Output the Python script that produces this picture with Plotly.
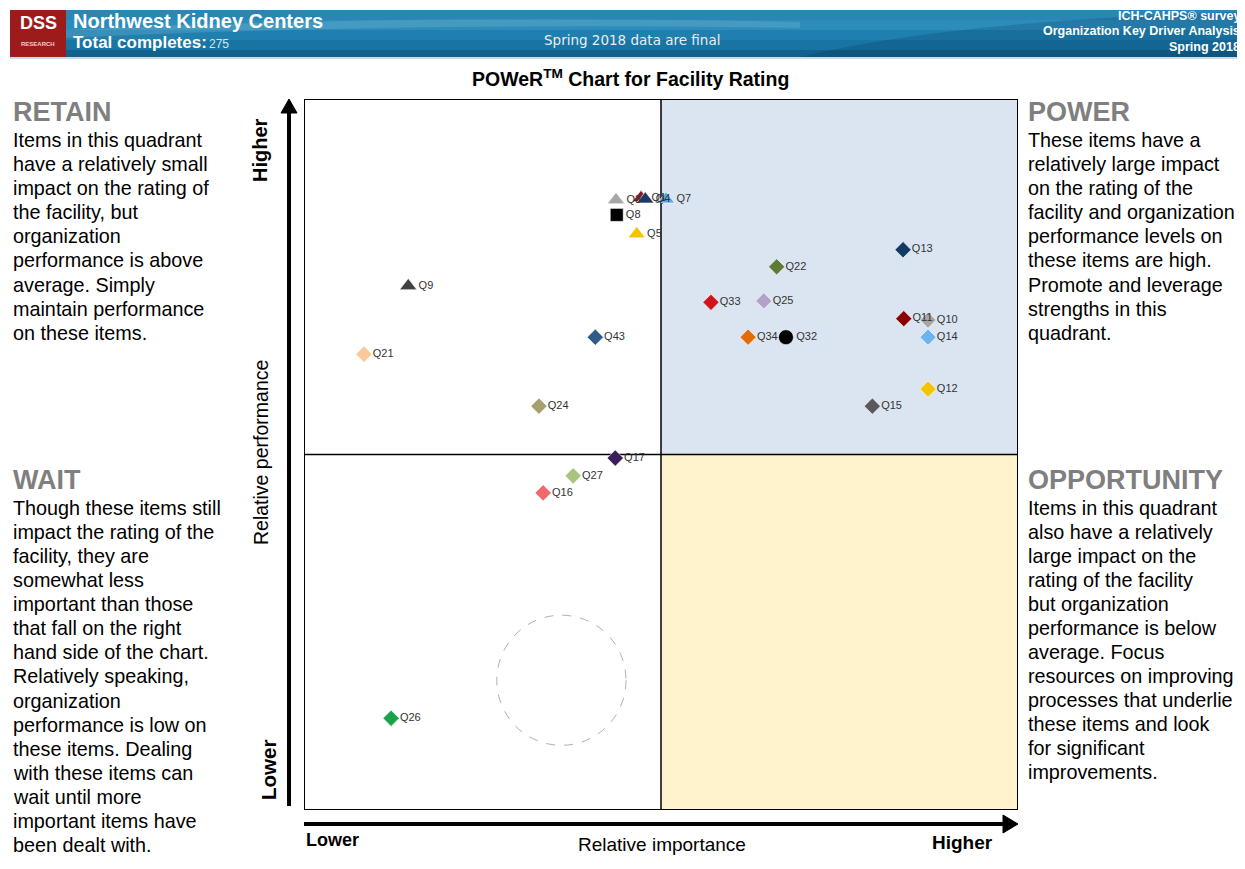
import plotly.graph_objects as go

# ---------------- data ----------------
labels = ["Q3", "Q1", "Q4", "Q7", "Q8", "Q5", "Q9", "Q21", "Q43", "Q24",
          "Q22", "Q13", "Q33", "Q25", "Q34", "Q32", "Q11", "Q10", "Q14",
          "Q12", "Q15", "Q17", "Q27", "Q16", "Q26"]
importance = [43.7, 47.2, 47.8, 50.7, 43.8, 46.6, 14.6, 8.4, 40.8, 32.9,
              66.2, 83.9, 57.0, 64.4, 62.2, 67.5, 84.0, 87.4, 87.4,
              87.4, 79.6, 43.6, 37.7, 33.5, 12.2]
performance = [85.8, 86.1, 85.9, 85.9, 83.7, 81.0, 73.7, 64.1, 66.5, 56.8,
               76.4, 78.8, 71.4, 71.6, 66.5, 66.5, 69.1, 68.9, 66.5,
               59.2, 56.8, 49.5, 47.0, 44.6, 12.9]
symbols = ["triangle-up"] * 4 + ["square", "triangle-up", "triangle-up"] + \
          ["diamond"] * 8 + ["circle"] + ["diamond"] * 9
colors = ["#a6a6a6", "#8b1a1a", "#1f3864", "#5fa8e8", "#000000", "#f5c400",
          "#404040", "#f9c89b", "#2e5c8a", "#a69f6e", "#5e7a35", "#123a63",
          "#d0131c", "#b3a2c7", "#e36c0a", "#000000", "#8b0000", "#a6a6a6",
          "#6cb4ee", "#f5c400", "#595959", "#3b1f5a", "#a9c47f", "#f0696b",
          "#1aa34a"]
circle_bounds = [27.0, 45.1, 9.1, 27.4]  # x0, x1, y0, y1

retain_lines = ["Items in this quadrant", "have a relatively small", "impact on the rating of",
                "the facility, but", "organization", "performance is above",
                "average. Simply", "maintain performance", "on these items."]
wait_lines = ["Though these items still", "impact the rating of the", "facility, they are",
              "somewhat less", "important than those", "that fall on the right",
              "hand side of the chart.", "Relatively speaking,", "organization",
              "performance is low on", "these items. Dealing", "with these items can",
              "wait until more", "important items have", "been dealt with."]
power_lines = ["These items have a", "relatively large impact", "on the rating of the",
               "facility and organization", "performance levels on", "these items are high.",
               "Promote and leverage", "strengths in this", "quadrant."]
opp_lines = ["Items in this quadrant", "also have a relatively", "large impact on the",
             "rating of the facility", "but organization", "performance is below",
             "average. Focus", "resources on improving", "processes that underlie",
             "these items and look", "for significant", "improvements."]

# ---------------- layout helpers (page pixel coords) ----------------
OFF = 8                     # body margin of the html page
W, H = 1245 - OFF, 869 - OFF
L, R, T, B = 304, 1018, 99, 810


def px(x):
    return (x - L) / (R - L)


def py(y):
    return (B - y) / (B - T)


FONT = "Liberation Sans, Arial, sans-serif"
WIDE = "DejaVu Sans, Verdana, sans-serif"

fig = go.Figure()

sizes = [15 if s == "triangle-up" else (13 if s == "square" else (15 if s == "circle" else 12.5)) for s in symbols]
fig.add_trace(go.Scatter(
    x=importance, y=performance, mode="markers+text",
    text=labels, textposition="middle right",
    textfont=dict(family=FONT, size=11, color="#333333"),
    marker=dict(symbol=symbols, color=colors, size=sizes, opacity=1,
                line=dict(color="white", width=0.6)),
    cliponaxis=False, hoverinfo="text", showlegend=False))

shapes = []
annotations = []

# quadrant fills
shapes.append(dict(type="rect", xref="x", yref="y", x0=50, x1=100, y0=50, y1=100,
                   fillcolor="#dbe5f1", line=dict(width=0), layer="below"))
shapes.append(dict(type="rect", xref="x", yref="y", x0=50, x1=100, y0=0, y1=50,
                   fillcolor="#fef3cd", line=dict(width=0), layer="below"))
# divider lines
shapes.append(dict(type="line", xref="x", yref="y", x0=50, x1=50, y0=0, y1=100,
                   line=dict(color="black", width=1.5), layer="below"))
shapes.append(dict(type="line", xref="x", yref="y", x0=0, x1=100, y0=50, y1=50,
                   line=dict(color="black", width=1.5), layer="below"))
# border
shapes.append(dict(type="rect", xref="x", yref="y", x0=0, x1=100, y0=0, y1=100,
                   line=dict(color="black", width=2), layer="below"))
# dashed circle
shapes.append(dict(type="circle", xref="x", yref="y",
                   x0=circle_bounds[0], x1=circle_bounds[1], y0=circle_bounds[2], y1=circle_bounds[3],
                   line=dict(color="#b0b0b0", width=1, dash="dash")))

# axis arrows
shapes.append(dict(type="line", xref="paper", yref="paper", x0=px(289), x1=px(289),
                   y0=py(806), y1=py(112), line=dict(color="black", width=4)))
shapes.append(dict(type="path", xref="paper", yref="paper",
                   path=f"M {px(281)} {py(113)} L {px(297)} {py(113)} L {px(289)} {py(99)} Z",
                   fillcolor="black", line=dict(color="black", width=1)))
shapes.append(dict(type="line", xref="paper", yref="paper", x0=px(304), x1=px(1004),
                   y0=py(824), y1=py(824), line=dict(color="black", width=4)))
shapes.append(dict(type="path", xref="paper", yref="paper",
                   path=f"M {px(1003)} {py(815)} L {px(1003)} {py(833)} L {px(1018)} {py(824)} Z",
                   fillcolor="black", line=dict(color="black", width=1)))

# header band
hdr_strips = [(10, 20, "#2a86b4"), (20, 30, "#2c8cba"), (30, 40, "#1f7fae"),
              (40, 50, "#1874a3"), (50, 57, "#10618c")]
for y0, y1, c in hdr_strips:
    shapes.append(dict(type="rect", xref="paper", yref="paper", x0=px(10), x1=px(1250),
                       y0=py(y1), y1=py(y0), fillcolor=c, line=dict(width=0)))
shapes.append(dict(type="path", xref="paper", yref="paper",
                   path=(f"M {px(66)} {py(30)} Q {px(400)} {py(14)} {px(800)} {py(22)} "
                         f"L {px(800)} {py(28)} Q {px(400)} {py(22)} {px(66)} {py(38)} Z"),
                   fillcolor="rgba(255,255,255,0.12)", line=dict(width=0)))
shapes.append(dict(type="path", xref="paper", yref="paper",
                   path=(f"M {px(800)} {py(57)} Q {px(950)} {py(20)} {px(1250)} {py(12)} "
                         f"L {px(1250)} {py(57)} Z"),
                   fillcolor="rgba(0,40,80,0.18)", line=dict(width=0)))
shapes.append(dict(type="line", xref="paper", yref="paper", x0=px(10), x1=px(1250),
                   y0=py(58), y1=py(58), line=dict(color="#c9dde8", width=2)))
# DSS logo box
shapes.append(dict(type="rect", xref="paper", yref="paper", x0=px(10), x1=px(66),
                   y0=py(57), y1=py(10), fillcolor="#9e1b1b", line=dict(width=0)))


def ann(x, y, text, size, color="black", bold=False, xanchor="left", family=FONT, angle=0):
    annotations.append(dict(
        x=px(x), y=py(y), xref="paper", yref="paper", text=f"<b>{text}</b>" if bold else text,
        showarrow=False, xanchor=xanchor, yanchor="middle", textangle=angle,
        font=dict(family=family, size=size, color=color)))


ann(38, 23, "DSS", 18, "white", bold=True, xanchor="center")
ann(38, 44, "RESEARCH", 6, "#f0d0d0", bold=True, xanchor="center")
ann(71, 21, "Northwest Kidney Centers", 20, "white", bold=True)
ann(71, 43, "Total completes:", 17, "white", bold=True)
ann(207, 44, "275", 12, "#d8e4ec")
ann(632, 40, "Spring 2018 data are final", 13.5, "#e8eef2", xanchor="center", family=WIDE)
ann(1242, 16, "ICH-CAHPS® survey", 12.5, "white", bold=True, xanchor="right")
ann(1242, 31, "Organization Key Driver Analysis", 12.5, "white", bold=True, xanchor="right")
ann(1242, 47, "Spring 2018", 12.5, "white", bold=True, xanchor="right")

ann(630, 78, "POWeR<sup>TM</sup> Chart for Facility Rating", 19.5, bold=True, xanchor="center")

# quadrant descriptions
BODY = 19.8
HEAD = 27
ann(11, 112, "RETAIN", HEAD, "#7f7f7f", bold=True)
for i, t in enumerate(retain_lines):
    ann(11, 140 + 24.1 * i, t, BODY)
ann(11, 480, "WAIT", HEAD, "#7f7f7f", bold=True)
for i, t in enumerate(wait_lines):
    ann(11, 508 + 24.07 * i, t, BODY)
ann(1026, 112, "POWER", HEAD, "#7f7f7f", bold=True)
for i, t in enumerate(power_lines):
    ann(1026, 140 + 24.1 * i, t, BODY)
ann(1026, 480, "OPPORTUNITY", HEAD, "#7f7f7f", bold=True)
for i, t in enumerate(opp_lines):
    ann(1026, 508 + 24.0 * i, t, BODY)

# axis words
ann(260, 150, "Higher", 20, bold=True, xanchor="center", angle=-90)
ann(268, 770, "Lower", 20.5, bold=True, xanchor="center", angle=-90)
ann(261, 453, "Relative performance", 19.5, xanchor="center", angle=-90)
ann(304, 840, "Lower", 18, bold=True)
ann(662, 844, "Relative importance", 19, xanchor="center")
ann(995, 842, "Higher", 19, bold=True, xanchor="right")

fig.update_layout(
    width=W, height=H,
    margin=dict(l=L - OFF, r=W - (R - OFF), t=T - OFF, b=H - (B - OFF), pad=0),
    paper_bgcolor="white", plot_bgcolor="white",
    xaxis=dict(range=[0, 100], visible=False, fixedrange=True),
    yaxis=dict(range=[0, 100], visible=False, fixedrange=True),
    shapes=shapes, annotations=annotations, showlegend=False,
)

fig.write_html("out.html")
